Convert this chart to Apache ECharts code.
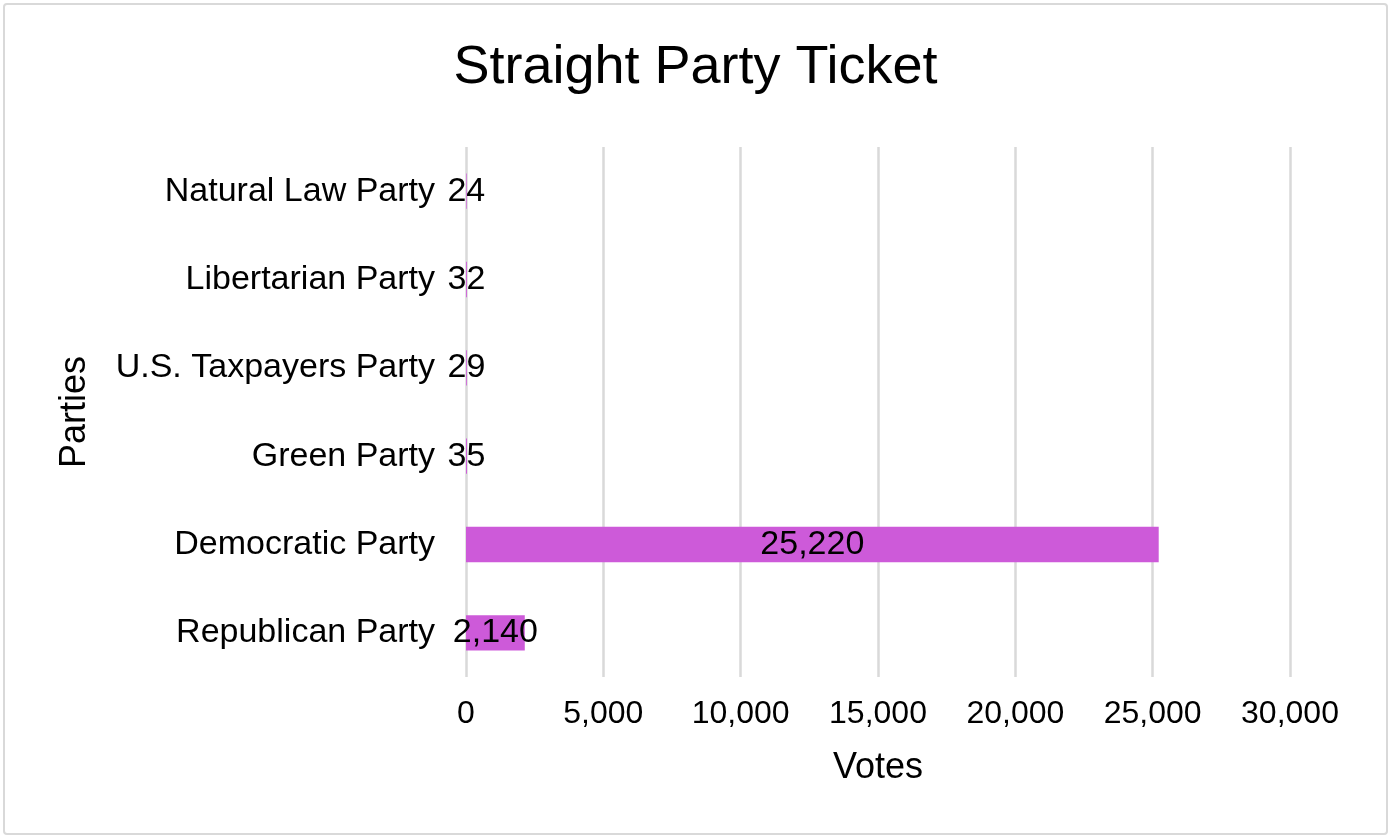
<!DOCTYPE html>
<html><head><meta charset="utf-8">
<script src="https://cdn.jsdelivr.net/npm/echarts@6/dist/echarts.min.js"></script>
<style>html,body{margin:0;padding:0;background:#fff}#c{width:1391px;height:837px;box-sizing:border-box}
#frame{position:absolute;left:3px;top:3px;width:1381px;height:828px;border:2px solid #d9d9d9;border-radius:4px;pointer-events:none}</style>
</head><body><div id="c"></div><div id="frame"></div>
<script>
const categories = ["Republican Party","Democratic Party","Green Party","U.S. Taxpayers Party","Libertarian Party","Natural Law Party"];
const votes = [2140, 25220, 35, 29, 32, 24];
const xTicks = [0, 5000, 10000, 15000, 20000, 25000, 30000];

const chart = echarts.init(document.getElementById('c'), null, {renderer:'canvas'});
const font = 'Liberation Sans, Arial, sans-serif';
const fmt = v => v.toLocaleString('en-US');
chart.setOption({
  backgroundColor:'#fff',
  animation:false,
  title:{text:'Straight Party Ticket', left:'center', top:36,
    textStyle:{fontFamily:font, fontSize:54, fontWeight:'normal', color:'#000'}},
  grid:{left:466, right:101, top:147, bottom:160, containLabel:false},
  xAxis:{type:'value', min:xTicks[0], max:xTicks[xTicks.length-1], interval:5000,
    name:'Votes', nameLocation:'middle', nameGap:73,
    nameTextStyle:{fontFamily:font, fontSize:36, color:'#000'},
    axisLine:{show:false}, axisTick:{show:false},
    axisLabel:{fontFamily:font, fontSize:32, color:'#000', margin:21, formatter:v=>fmt(v)},
    splitLine:{show:true, lineStyle:{color:'#d9d9d9', width:2.5}}},
  yAxis:{type:'category', data:categories,
    name:'Parties', nameLocation:'middle', nameGap:373, nameRotate:90,
    nameTextStyle:{fontFamily:font, fontSize:36, color:'#000'},
    axisLine:{show:false}, axisTick:{show:false},
    axisLabel:{fontFamily:font, fontSize:34, color:'#000', margin:31}},
  series:[{type:'bar', data:votes, barWidth:'40%',
    itemStyle:{color:'#CD5AD9'},
    label:{show:true, position:'inside', fontFamily:font, fontSize:34, color:'#000', formatter:p=>fmt(p.value)}}]
});
</script></body></html>
